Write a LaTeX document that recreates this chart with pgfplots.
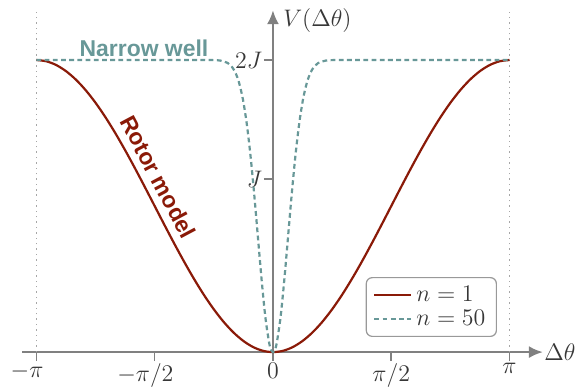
\documentclass[border=0pt]{standalone}
\usepackage{fontspec}
\usepackage{pgfplots}
\pgfplotsset{compat=1.18}
\usetikzlibrary{arrows.meta}
\newfontfamily\labelsf{Liberation Sans}
\definecolor{rotorred}{RGB}{138,26,8}
\definecolor{wellteal}{RGB}{104,152,152}
\definecolor{axisgray}{RGB}{128,128,128}
\definecolor{labelgray}{RGB}{55,55,55}

\begin{document}
\begin{tikzpicture}
\begin{axis}[
  x=37.64bp, y=73bp,
  axis lines=middle,
  xmin=-3.328, xmax=3.586, ymin=0, ymax=2.342,
  clip=false,
  hide obscured x ticks=false,
  hide obscured y ticks=false,
  axis line style={axisgray, line width=1.3bp, -{Latex[length=7bp,width=6bp]}},
  tick align=outside,
  major tick length=4.5bp,
  tick style={axisgray, line width=0.8bp},
  xtick={-3.14159,-1.5708,0,1.5708,3.14159},
  xticklabels={{\llap{$-$}$\pi$},{\llap{$-$}$\pi/2$},$0$,$\pi/2$,$\pi$},
  ytick={1.185,2},
  yticklabels={$J$,$2J$},
  ticklabel style={font=\fontsize{11.5}{13}\selectfont, text=labelgray},
  xticklabel style={inner sep=1bp},
  yticklabel style={inner sep=0.8bp},
  legend cell align=left,
  legend image code/.code={\draw[#1] (0bp,0bp) -- (18.5bp,0bp);},
  legend style={
    at={(axis cs:2.975,0.514)}, anchor=north east,
    draw=axisgray!80, rounded corners=3bp, line width=0.6bp,
    font=\fontsize{12}{14}\selectfont, text=labelgray,
    inner xsep=3.5bp, inner ysep=2bp, row sep=-1bp,
  },
]
% periodic boundaries at +-pi
\addplot[axisgray!70, dotted, line width=0.7bp, forget plot]
  coordinates {(-3.14159,0) (-3.14159,2.33)};
\addplot[axisgray!70, dotted, line width=0.7bp, forget plot]
  coordinates {(3.14159,0) (3.14159,2.33)};

% rotor model, n = 1
\addplot[rotorred, line width=1.1bp, smooth] coordinates {
  (-3.14159,2) (-3.01069,1.99144) (-2.87979,1.96593) (-2.74889,1.92388)
  (-2.61799,1.86603) (-2.48709,1.79335) (-2.35619,1.70711) (-2.22529,1.60876)
  (-2.09440,1.5) (-1.96350,1.38268) (-1.83260,1.25882) (-1.70170,1.13053)
  (-1.57080,1) (-1.43990,0.86947) (-1.30900,0.74118) (-1.17810,0.61732)
  (-1.04720,0.5) (-0.91630,0.39124) (-0.78540,0.29289) (-0.65450,0.20665)
  (-0.52360,0.13397) (-0.39270,0.07612) (-0.26180,0.03407) (-0.13090,0.00856)
  (0,0)
  (0.13090,0.00856) (0.26180,0.03407) (0.39270,0.07612) (0.52360,0.13397)
  (0.65450,0.20665) (0.78540,0.29289) (0.91630,0.39124) (1.04720,0.5)
  (1.17810,0.61732) (1.30900,0.74118) (1.43990,0.86947) (1.57080,1)
  (1.70170,1.13053) (1.83260,1.25882) (1.96350,1.38268) (2.09440,1.5)
  (2.22529,1.60876) (2.35619,1.70711) (2.48709,1.79335) (2.61799,1.86603)
  (2.74889,1.92388) (2.87979,1.96593) (3.01069,1.99144) (3.14159,2)
};
\addlegendentry{$n=1$}

% narrow well, n = 50
\addplot[wellteal, line width=1.1bp, dash pattern=on 2.4bp off 1.7bp, smooth] coordinates {
  (-3.14159,2) (-2.5,2) (-2.0,2) (-1.6,2) (-1.2,2) (-1.0,2.0)
  (-0.8,1.9995) (-0.7,1.9962) (-0.6,1.9793) (-0.55,1.9566) (-0.5,1.915)
  (-0.45,1.8442) (-0.4,1.733) (-0.35,1.5708) (-0.3,1.3534) (-0.25,1.0862)
  (-0.2,0.788) (-0.15,0.4908) (-0.1,0.2351) (-0.05,0.0615) (-0.025,0.0156)
  (0,0)
  (0.025,0.0156) (0.05,0.0615) (0.1,0.2351) (0.15,0.4908) (0.2,0.788)
  (0.25,1.0862) (0.3,1.3534) (0.35,1.5708) (0.4,1.733) (0.45,1.8442)
  (0.5,1.915) (0.55,1.9566) (0.6,1.9793) (0.7,1.9962) (0.8,1.9995)
  (1.0,2.0) (1.2,2) (1.6,2) (2.0,2) (2.5,2) (3.14159,2)
};
\addlegendentry{$n=50$}

% axis labels
\node[anchor=west, inner sep=0pt, text=labelgray, font=\fontsize{11.5}{13}\selectfont]
  at (axis cs:0.133,2.267) {$V(\Delta\theta)$};
\node[anchor=west, inner sep=0pt, text=labelgray, font=\fontsize{11.5}{13}\selectfont]
  at (axis cs:3.60,0) {$\Delta\theta$};

% curve annotations
\node[text=wellteal, font=\labelsf\bfseries\fontsize{11.5}{13}\selectfont, inner sep=0pt]
  at (axis cs:-1.713,2.082) {Narrow well};
\node[text=rotorred, font=\labelsf\bfseries\fontsize{11.5}{13}\selectfont, inner sep=0pt,
      rotate=-62, anchor=base]
  at (axis cs:-1.62,1.172) {Rotor model};

\coordinate (bbA) at (axis cs:-3.625,2.411);
\coordinate (bbB) at (axis cs:4.011,-0.24);
\end{axis}
\pgfresetboundingbox
\path[use as bounding box] (bbA) rectangle (bbB);
\end{tikzpicture}
\end{document}
